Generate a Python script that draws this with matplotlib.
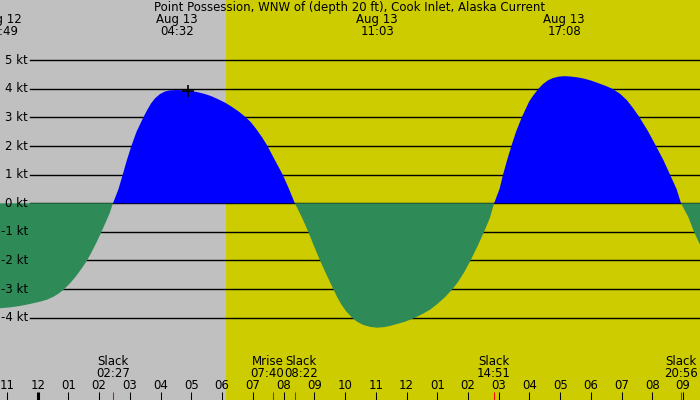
import matplotlib
matplotlib.use("Agg")
import matplotlib.pyplot as plt
import matplotlib.transforms as mtransforms
import numpy as np

# ---- data (hours relative to Aug 13 00:00, current speed in knots) ----
times = [-1.227, -0.901, -0.576, -0.251, 0.075, 0.303, 0.508, 0.661, 0.833,
         1.051, 1.246, 1.425, 1.594, 1.757, 1.913, 2.060, 2.190, 2.336, 2.450,
         2.629, 2.766, 2.899, 3.046, 3.215, 3.436, 3.557, 3.687, 3.817, 3.980,
         4.142, 4.305, 4.533, 4.761, 4.956, 5.184, 5.411, 5.639, 5.867, 6.095,
         6.323, 6.550, 6.778, 6.941, 7.136, 7.299, 7.478, 7.722, 7.972, 8.177,
         8.367,
         8.600, 8.805, 8.991, 9.186, 9.398, 9.619, 9.739, 9.869, 10.032, 10.218,
         10.390, 10.585, 10.813, 11.041, 11.269, 11.496, 11.724, 11.952, 12.277,
         12.538, 12.765, 12.993, 13.254, 13.498, 13.676, 13.872, 14.083, 14.311,
         14.523, 14.718, 14.850,
         15.027, 15.141, 15.271, 15.411, 15.564, 15.749, 15.987, 16.117, 16.290,
         16.442, 16.605, 16.768, 16.963, 17.158, 17.354, 17.581, 17.809, 18.037,
         18.265, 18.493, 18.704, 18.948, 19.176, 19.371, 19.566, 19.859, 20.119,
         20.364, 20.575, 20.787, 20.933, 21.177, 21.356, 21.551]
speeds = [-3.67, -3.64, -3.59, -3.52, -3.44, -3.37, -3.27, -3.17, -3.03,
          -2.80, -2.55, -2.29, -2.02, -1.70, -1.37, -1.03, -0.72, -0.36, 0.00,
          0.50, 1.00, 1.50, 2.00, 2.50, 3.00, 3.25, 3.49, 3.67, 3.82,
          3.91, 3.95, 3.96, 3.95, 3.93, 3.89, 3.83, 3.75, 3.64, 3.52,
          3.37, 3.20, 3.00, 2.83, 2.56, 2.31, 2.00, 1.50, 1.00, 0.50,
          0.00,
          -0.50, -1.00, -1.50, -2.00, -2.50, -3.00, -3.27, -3.52, -3.77, -3.99,
          -4.14, -4.25, -4.32, -4.35, -4.33, -4.28, -4.21, -4.14, -4.00,
          -3.86, -3.72, -3.53, -3.28, -3.00, -2.75, -2.42, -2.00, -1.50,
          -1.00, -0.50, 0.00,
          0.50, 1.00, 1.50, 2.00, 2.50, 3.00, 3.55, 3.76, 4.00,
          4.17, 4.30, 4.38, 4.43, 4.445, 4.43, 4.40, 4.35, 4.28,
          4.19, 4.10, 4.00, 3.83, 3.60, 3.33, 3.03, 2.52, 2.00,
          1.50, 1.00, 0.50, 0.00, -0.50, -1.00, -1.45]

top_dates = ["Aug 12", "Aug 13", "Aug 13", "Aug 13"]
top_times = ["22:49", "04:32", "11:03", "17:08"]
top_hours = [-1.183, 4.533, 11.050, 17.133]

event_names = ["Slack", "Mrise", "Slack", "Slack", "Slack"]
event_times = ["02:27", "07:40", "08:22", "14:51", "20:56"]
event_hours = [2.450, 7.667, 8.367, 14.850, 20.933]

kt_levels = [-4, -3, -2, -1, 0, 1, 2, 3, 4, 5]
hour_ticks = list(range(-1, 22))
sunrise = 6.13
now_hour, now_speed = 4.901, 3.94

title = "Point Possession, WNW of (depth 20 ft), Cook Inlet, Alaska Current"

# ---- figure ----
fig = plt.figure(figsize=(7, 4), dpi=100)
ax = fig.add_axes([0, 0, 1, 1])
xmin, xmax = -1.227, 21.55
ax.set_xlim(xmin, xmax)
ax.set_ylim(-6.878, 7.108)
ax.axis("off")

gray = "#c0c0c0"
yellow = "#cccc00"
ax.axvspan(xmin, sunrise, color=gray, zorder=0, lw=0)
ax.axvspan(sunrise, xmax, color=yellow, zorder=0, lw=0)

fs = 8.5
fam = ["DejaVu Sans"]

for k in kt_levels:
    ax.axhline(k, xmin=30 / 700, xmax=1, color="black", lw=1.0, zorder=1)
    ax.text(0.04, k, f"{k} kt", transform=ax.get_yaxis_transform(),
            ha="right", va="center", fontsize=fs, family=fam, zorder=5)

t = np.array(times)
s = np.array(speeds)
ax.fill_between(t, 0, s, where=s >= 0, interpolate=True, color="#0000ff", lw=0, zorder=2)
ax.fill_between(t, 0, s, where=s <= 0, interpolate=True, color="#2e8b57", lw=0, zorder=2)

ax.plot([now_hour], [now_speed], marker="+", color="black", ms=8, mew=1.2, zorder=4)

# title & top labels
ax.text(0.5, 0.982, title, transform=ax.transAxes, ha="center", va="center",
        fontsize=fs, family=fam)
xt = ax.get_xaxis_transform()
for d, tm, h in zip(top_dates, top_times, top_hours):
    ax.text(h, 0.952, d, transform=xt, ha="center", va="center",
            fontsize=fs, family=fam)
    ax.text(h, 0.922, tm, transform=xt, ha="center", va="center",
            fontsize=fs, family=fam)

# bottom hour ticks
for h in hour_ticks:
    lab = f"{((h - 1) % 12) + 1:02d}"
    ax.text(h, 0.037, lab, transform=xt, ha="center", va="center",
            fontsize=fs, family=fam)
    lw = 2.2 if h % 24 == 0 else 0.75
    ax.plot([h, h], [0, 0.021], transform=xt, color="black", lw=lw,
            solid_capstyle="butt", zorder=5)

# events (labels nudged apart where they would collide)
label_dx_px = [0, -6, 6.5, 0, 0]
for n, tm, h, dx in zip(event_names, event_times, event_hours, label_dx_px):
    tr = mtransforms.offset_copy(xt, fig=fig, x=dx * 72 / 100, y=0, units="points")
    ax.text(h, 0.096, n, transform=tr, ha="center", va="center",
            fontsize=fs, family=fam)
    ax.text(h, 0.066, tm, transform=tr, ha="center", va="center",
            fontsize=fs, family=fam)
    ax.plot([h, h], [0, 0.021], transform=xt, color="red", lw=0.75,
            solid_capstyle="butt", zorder=6)

fig.savefig("out.png", dpi=100)
